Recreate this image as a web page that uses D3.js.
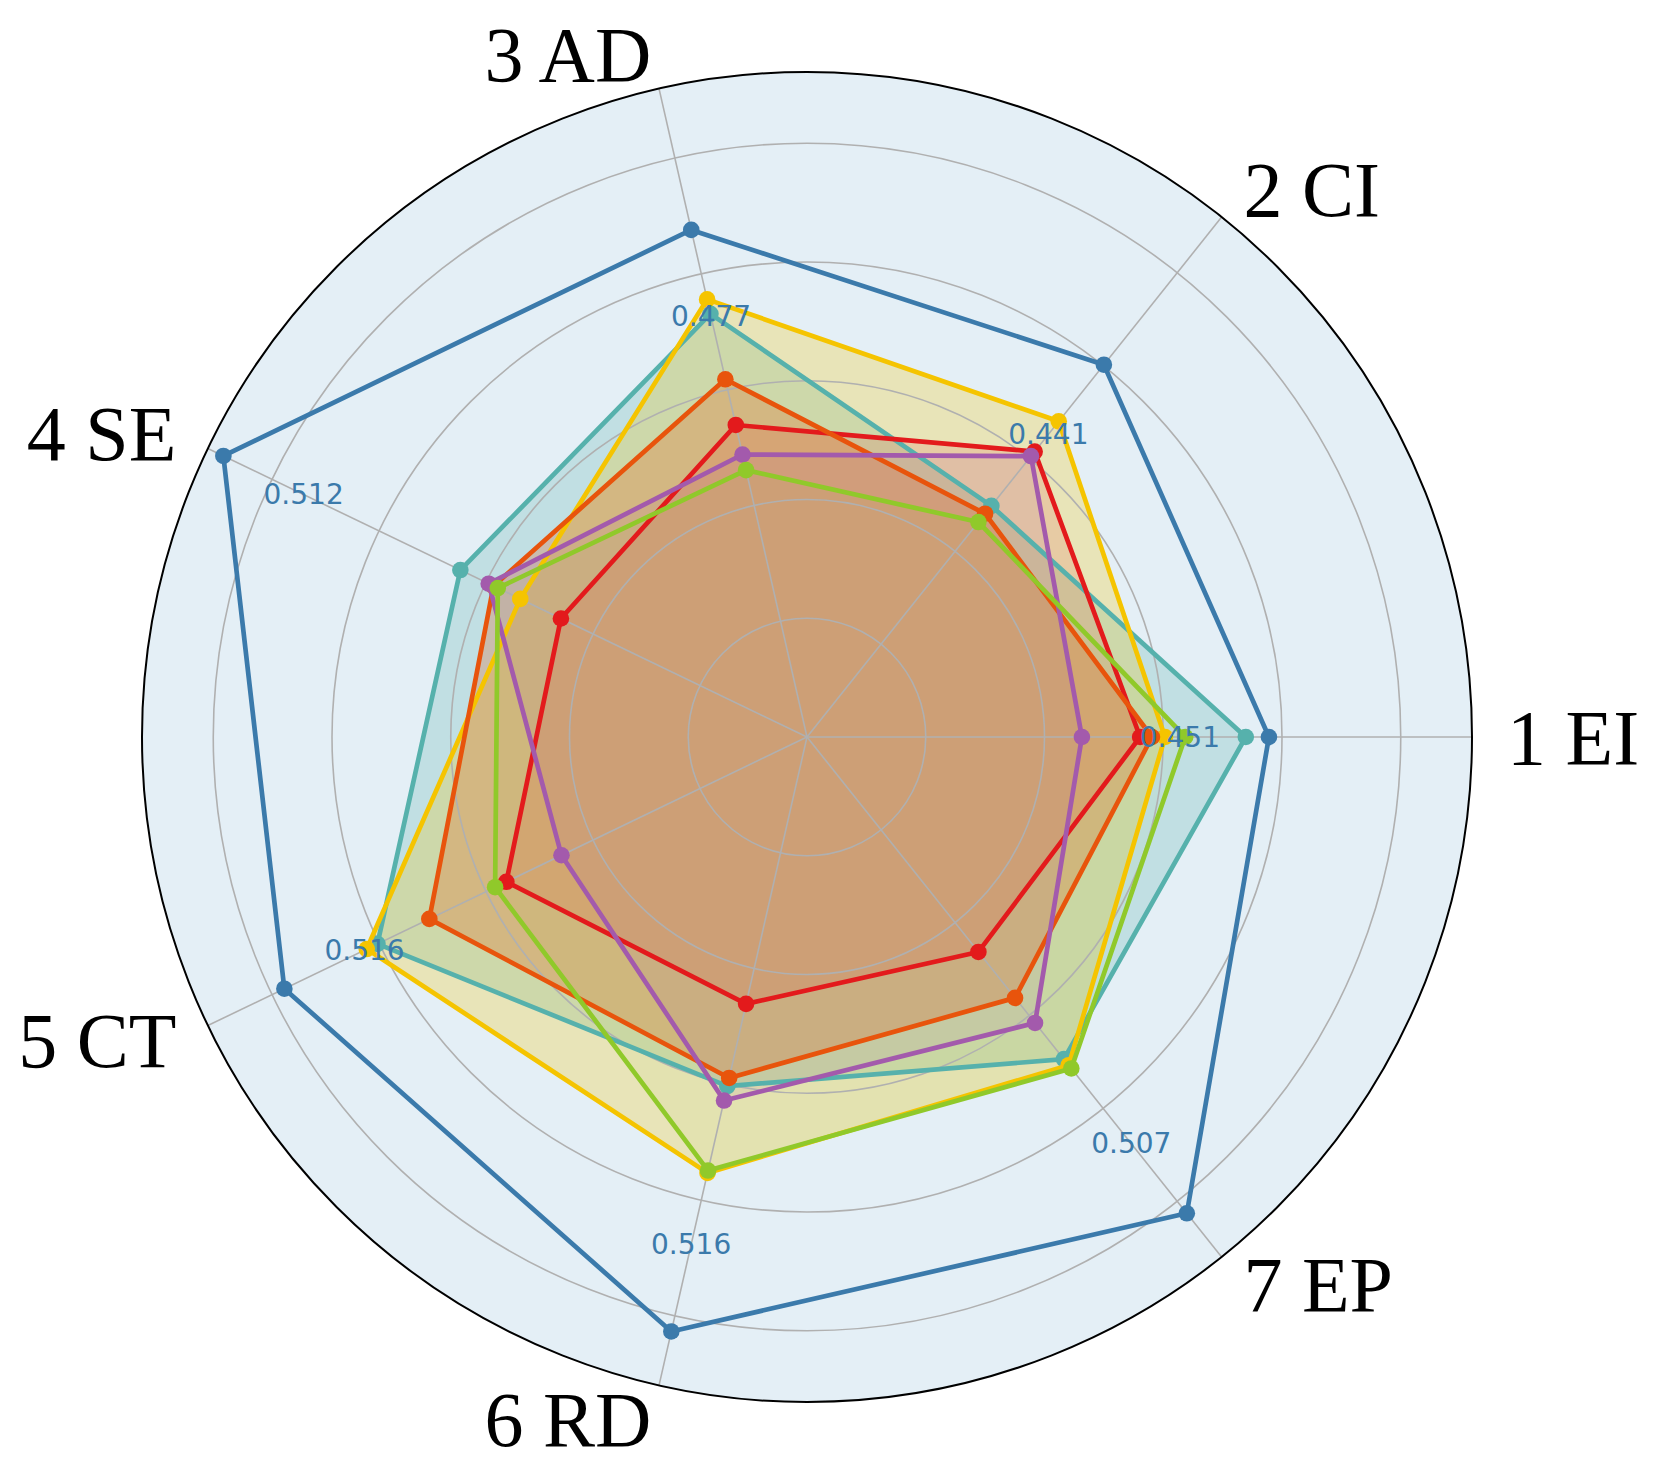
<!DOCTYPE html>
<meta charset="utf-8">
<style>
    body {
        margin: 0;
        background: #fff;
    }

    svg {
        display: block;
    }

    .axisLabel {
        font-family: 'Liberation Serif', 'Times New Roman', serif;
        font-size: 78px;
        fill: #000;
    }

    .valueLabel {
        font-family: 'DejaVu Sans', sans-serif;
        font-size: 28px;
    }
</style>
<svg width="1660" height="1474"></svg>
<script src="https://cdn.jsdelivr.net/npm/d3@7/dist/d3.min.js"></script>
<script>
    var axes = ["1 EI", "2 CI", "3 AD", "4 SE", "5 CT", "6 RD", "7 EP"];
    var gridTicks = [0.2, 0.4, 0.6, 0.8, 1.0];
    var rMax = 1.12;

    // normalised score on every axis
    var blueVals   = [0.778, 0.802, 0.876, 1.091, 0.977, 1.027, 1.026];
    var tealVals   = [0.739, 0.498, 0.731, 0.648, 0.803, 0.603, 0.694];
    var yellowVals = [0.603, 0.680, 0.756, 0.536, 0.823, 0.753, 0.707];
    var redVals    = [0.561, 0.615, 0.539, 0.460, 0.562, 0.461, 0.463];
    var orangeVals = [0.581, 0.481, 0.618, 0.586, 0.706, 0.589, 0.562];
    var purpleVals = [0.463, 0.605, 0.488, 0.595, 0.459, 0.628, 0.616];
    var greenVals  = [0.637, 0.463, 0.461, 0.578, 0.583, 0.749, 0.714];

    // raw scores written next to the blue series
    var blueLabels = ["0.451", "0.441", "0.477", "0.512", "0.516", "0.516", "0.507"];

    var series = [
        { name: "teal",   values: tealVals,   color: "#56b1ac", fill: 0.25 },
        { name: "yellow", values: yellowVals, color: "#f5c400", fill: 0.25 },
        { name: "red",    values: redVals,    color: "#e31a1c", fill: 0.12 },
        { name: "orange", values: orangeVals, color: "#e8540c", fill: 0.25 },
        { name: "purple", values: purpleVals, color: "#a35aac", fill: 0.1 },
        { name: "green",  values: greenVals,  color: "#90c92a", fill: 0.05 },
        { name: "blue",   values: blueVals,   color: "#3b7aab", fill: 0 }
    ];

    var svg = d3.select("svg"),
        cx = 807,
        cy = 737,
        outerR = 665,
        g = svg.append("g").attr("transform", "translate(" + cx + "," + cy + ")");

    var r = d3.scaleLinear().domain([0, rMax]).range([0, outerR]);
    var theta = d3.scaleLinear().domain([0, axes.length]).range([0, 2 * Math.PI]);

    function px(i, rad) { return rad * Math.cos(theta(i)); }
    function py(i, rad) { return -rad * Math.sin(theta(i)); }

    // polar background
    g.append("circle")
        .attr("r", outerR)
        .attr("fill", "#e4eff6");

    var radar = d3.lineRadial()
        .angle(function (d, i) { return Math.PI / 2 - theta(i); })
        .radius(function (d) { return r(d); })
        .curve(d3.curveLinearClosed);

    // fills go under the grid and every line
    g.append("g").selectAll("path")
        .data(series.filter(function (d) { return d.fill > 0; }))
        .enter().append("path")
        .attr("d", function (d) { return radar(d.values); })
        .attr("fill", function (d) { return d.color; })
        .attr("fill-opacity", function (d) { return d.fill; })
        .attr("stroke", "none");

    g.selectAll(".grid")
        .data(gridTicks)
        .enter().append("circle")
        .attr("class", "grid")
        .attr("r", function (d) { return r(d); })
        .attr("fill", "none")
        .attr("stroke", "#b0b0b0")
        .attr("stroke-width", 1.6);

    g.selectAll(".spoke")
        .data(axes)
        .enter().append("line")
        .attr("class", "spoke")
        .attr("x1", 0)
        .attr("y1", 0)
        .attr("x2", function (d, i) { return px(i, outerR); })
        .attr("y2", function (d, i) { return py(i, outerR); })
        .attr("stroke", "#b0b0b0")
        .attr("stroke-width", 1.6);

    var groups = g.selectAll(".series")
        .data(series)
        .enter().append("g")
        .attr("class", "series");

    groups.append("path")
        .attr("d", function (d) { return radar(d.values); })
        .attr("fill", "none")
        .attr("stroke", function (d) { return d.color; })
        .attr("stroke-width", 4.7)
        .attr("stroke-linejoin", "round");

    groups.selectAll("circle")
        .data(function (d) { return d.values.map(function (v) { return { v: v, color: d.color }; }); })
        .enter().append("circle")
        .attr("cx", function (d, i) { return px(i, r(d.v)); })
        .attr("cy", function (d, i) { return py(i, r(d.v)); })
        .attr("r", 8.3)
        .attr("fill", function (d) { return d.color; });

    // raw values of the blue series, a bit inside its markers
    g.selectAll(".valueLabel")
        .data(blueLabels)
        .enter().append("text")
        .attr("class", "valueLabel")
        .attr("x", function (d, i) { return px(i, r(blueVals[i] - 0.15)); })
        .attr("y", function (d, i) { return py(i, r(blueVals[i] - 0.15)); })
        .attr("text-anchor", "middle")
        .attr("dominant-baseline", "central")
        .attr("fill", "#3b7aab")
        .text(function (d) { return d; });

    g.append("circle")
        .attr("r", outerR)
        .attr("fill", "none")
        .attr("stroke", "#000")
        .attr("stroke-width", 2);

    g.selectAll(".axisLabel")
        .data(axes)
        .enter().append("text")
        .attr("class", "axisLabel")
        .attr("x", function (d, i) { return px(i, 700); })
        .attr("y", function (d, i) { return py(i, 700); })
        .attr("text-anchor", function (d, i) {
            var c = Math.cos(theta(i));
            return c > 0.01 ? "start" : (c < -0.01 ? "end" : "middle");
        })
        .attr("dominant-baseline", "central")
        .text(function (d) { return d; });
</script>
